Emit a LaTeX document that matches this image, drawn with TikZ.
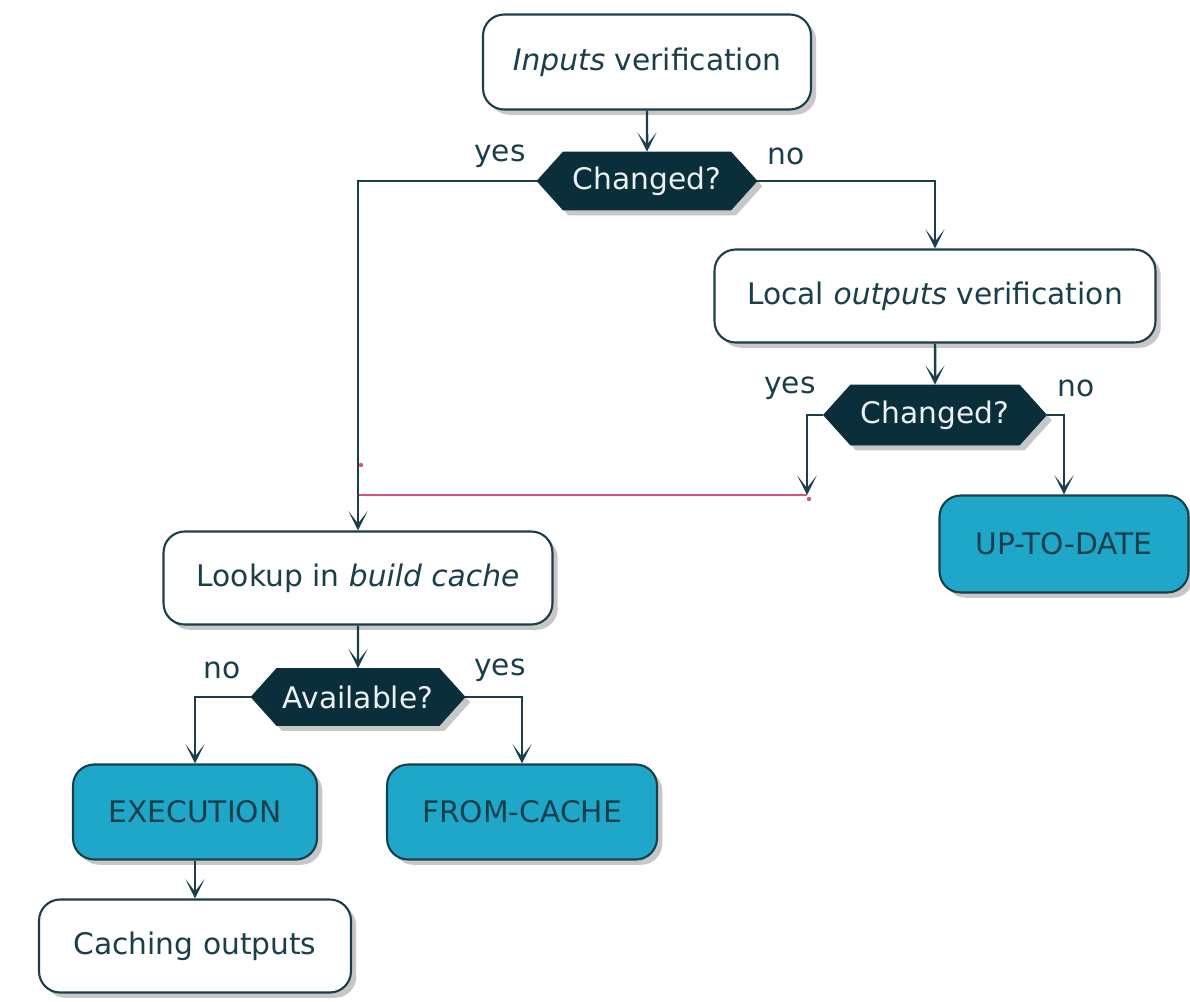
\documentclass[tikz,border=0pt]{standalone}
\usepackage{fontspec}
\setmainfont{DejaVu Sans}
\usetikzlibrary{shapes.symbols,shadows,arrows.meta}
\definecolor{linec}{HTML}{1A3F4B}
\definecolor{hexfill}{HTML}{0A2F3A}
\definecolor{endfill}{HTML}{1FA7CA}
\definecolor{mergec}{HTML}{D6557C}

\begin{document}
\begin{tikzpicture}[x=0.02cm, y=-0.02cm, >={Stealth[length=11pt,width=11pt,inset=7pt]},
    font=\fontsize{16.9}{20}\selectfont, text=linec]
    \tikzstyle{flow}=[->, draw=linec, line width=1.4pt]
    \tikzstyle{shade}=[drop shadow={shadow xshift=3pt, shadow yshift=-3pt, opacity=0.22, fill=black}]
    \tikzstyle{step box}=[rectangle, rounded corners=12pt, draw=linec, line width=1.2pt, fill=white, shade]
    \tikzstyle{end box}=[step box, fill=endfill]
    \tikzstyle{test}=[signal, signal to=east and west, signal pointer angle=96, fill=hexfill,
        draw=hexfill, text=white!92!linec, shade]
    \tikzstyle{annot}=[text=linec]

    \useasboundingbox (0,0) rectangle (1190,1001);

    % Steps
    \node[step box, minimum width=6.56cm, minimum height=1.9cm] (inputs) at (647,62) {\textit{Inputs} verification};
    \node[test, minimum width=4.4cm, minimum height=1.16cm] (changedA) at (647,181) {Changed?};
    \node[step box, minimum width=8.82cm, minimum height=1.86cm] (local) at (935,296) {Local \textit{outputs} verification};
    \node[test, minimum width=4.46cm, minimum height=1.2cm] (changedB) at (935,415) {Changed?};
    \node[end box, minimum width=4.98cm, minimum height=1.94cm] (uptodate) at (1064,544) {UP-TO-DATE};
    \node[step box, minimum width=7.78cm, minimum height=1.86cm] (lookup) at (358,578) {Lookup in \textit{build cache}};
    \node[test, minimum width=4.28cm, minimum height=1.14cm] (available) at (358,697) {Available?};
    \node[end box, minimum width=4.88cm, minimum height=1.9cm] (execution) at (195,812) {EXECUTION};
    \node[end box, minimum width=5.4cm, minimum height=1.9cm] (fromcache) at (522,812) {FROM-CACHE};
    \node[step box, minimum width=6.24cm, minimum height=1.86cm] (caching) at (195,946) {Caching outputs};

    % Branch labels
    \node[annot] (yesA) at (500,156) {yes};
    \node[annot] (noA) at (786,156) {no};
    \node[annot] (yesB) at (790,388) {yes};
    \node[annot] (noB) at (1076,388) {no};
    \node[annot] (noC) at (222,670) {no};
    \node[annot] (yesC) at (500,670) {yes};

    % Merge bar
    \coordinate (mergeL) at (358,495);
    \coordinate (mergeR) at (807,495);
    \draw[mergec, line width=0.9pt] (mergeL) -- (mergeR);
    \fill[mergec] (361,465) circle (2.2);
    \fill[mergec] (809,499) circle (2.2);

    % Links
    \draw[flow] (inputs) -- (changedA);
    \draw[flow] (changedA.west) -| (lookup.north);
    \draw[flow] (changedA.east) -| (local.north);
    \draw[flow] (local) -- (changedB);
    \draw[flow] (changedB.west) -| (mergeR);
    \draw[flow] (changedB.east) -| (uptodate.north);
    \draw[flow] (lookup) -- (available);
    \draw[flow] (available.west) -| (execution.north);
    \draw[flow] (available.east) -| (fromcache.north);
    \draw[flow] (execution) -- (caching);
\end{tikzpicture}
\end{document}
